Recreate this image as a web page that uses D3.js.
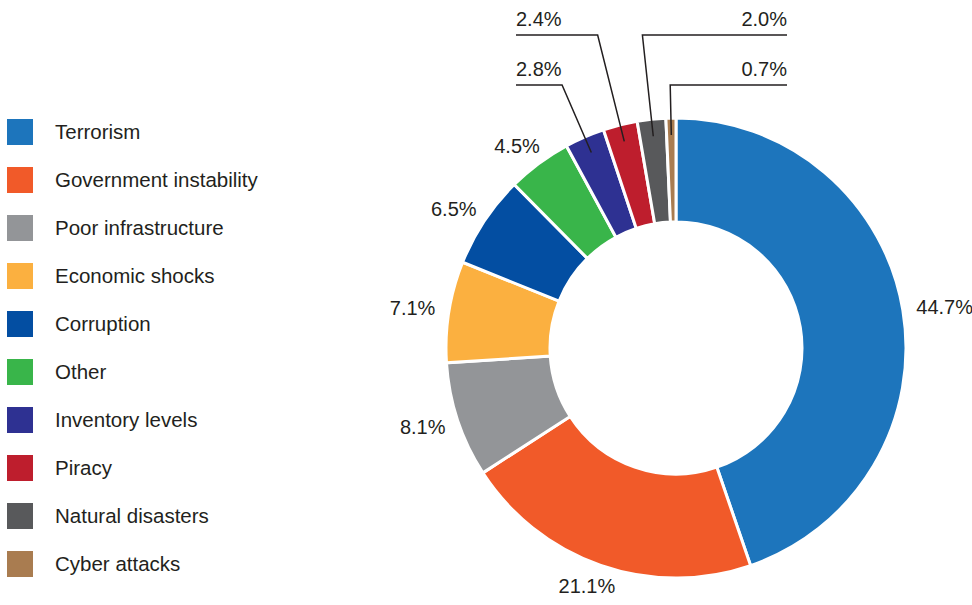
<!DOCTYPE html>
<html>
<head>
<meta charset="utf-8">
<script src="https://cdn.jsdelivr.net/npm/d3@7"></script>
<style>
  body { margin: 0; background: #fff; }
  svg { display: block; font-family: "Liberation Sans", Arial, Helvetica, sans-serif; }
</style>
</head>
<body>
<div id="chart"></div>
<script>
// Data
const categories = ["Terrorism", "Government instability", "Poor infrastructure", "Economic shocks",
  "Corruption", "Other", "Inventory levels", "Piracy", "Natural disasters", "Cyber attacks"];
const values = [44.7, 21.1, 8.1, 7.1, 6.5, 4.5, 2.8, 2.4, 2.0, 0.7];
const colors = ["#1d75bc", "#f15a29", "#939598", "#fbb040", "#034ea2",
  "#39b54a", "#2e3192", "#be1e2d", "#58595b", "#a97c50"];

const width = 972, height = 605;
const cx = 676, cy = 348;
const outerR = 230, innerR = 126;
const textColor = "#231f20";

const svg = d3.select("#chart").append("svg")
  .attr("width", width)
  .attr("height", height);

// legend
const legend = svg.append("g").attr("transform", "translate(7,119)");
const rows = legend.selectAll("g")
  .data(categories)
  .enter().append("g")
  .attr("transform", (d, i) => `translate(0,${i * 48})`);

rows.append("rect")
  .attr("width", 26)
  .attr("height", 26)
  .attr("fill", (d, i) => colors[i]);

rows.append("text")
  .attr("x", 48)
  .attr("y", 13)
  .attr("dy", "0.35em")
  .attr("font-size", 20.5)
  .attr("fill", textColor)
  .text(d => d);

// donut
const data = categories.map((c, i) => ({ name: c, value: values[i], color: colors[i] }));
const pie = d3.pie().sort(null).value(d => d.value);
const arcs = pie(data);
const arc = d3.arc().innerRadius(innerR).outerRadius(outerR);

const g = svg.append("g").attr("transform", `translate(${cx},${cy})`);

g.selectAll("path")
  .data(arcs)
  .enter().append("path")
  .attr("d", arc)
  .attr("fill", d => d.data.color)
  .attr("stroke", "#fff")
  .attr("stroke-width", 3);

const mid = d => (d.startAngle + d.endAngle) / 2;

// big slices: label just outside the ring
const labelR = 244;
const big = arcs.filter(d => d.data.value >= 4);
big.forEach(d => {
  const a = mid(d);
  const t = g.append("text")
    .attr("font-size", 20)
    .attr("fill", textColor)
    .attr("text-anchor", "middle")
    .attr("dy", "0.35em")
    .text(d.data.value.toFixed(1) + "%");
  const w = t.node().getComputedTextLength();
  const x = Math.sin(a) * labelR + Math.sin(a) * w / 2;
  const y = -Math.cos(a) * labelR - Math.cos(a) * 8;
  t.attr("x", x).attr("y", y);
});

// small slices: callouts with leader lines to two rows above the chart
const small = arcs.filter(d => d.data.value < 4);
const rowY = [85 - cy, 35 - cy];   // lower row, upper row (relative to centre)
const leftEnd = 516 - cx, rightEnd = 787 - cx;
const pointR = 213;
const callouts = [
  { side: "left", row: 0 },   // Inventory levels
  { side: "left", row: 1 },   // Piracy
  { side: "right", row: 1 },  // Natural disasters
  { side: "right", row: 0 }   // Cyber attacks
];

small.forEach((d, i) => {
  const a = mid(d);
  const c = callouts[i];
  const px = Math.sin(a) * pointR, py = -Math.cos(a) * pointR;
  const ly = rowY[c.row];
  // extend radially up to the row
  const ex = px + (ly - py) * (-Math.tan(a));
  const endX = c.side === "left" ? leftEnd : rightEnd;

  g.append("path")
    .attr("d", d3.line()([[px, py], [ex, ly], [endX, ly]]))
    .attr("fill", "none")
    .attr("stroke", textColor)
    .attr("stroke-width", 1.5);

  g.append("text")
    .attr("x", endX)
    .attr("y", ly - 9)
    .attr("text-anchor", c.side === "left" ? "start" : "end")
    .attr("font-size", 20)
    .attr("fill", textColor)
    .text(d.data.value.toFixed(1) + "%");
});
</script>
</body>
</html>
